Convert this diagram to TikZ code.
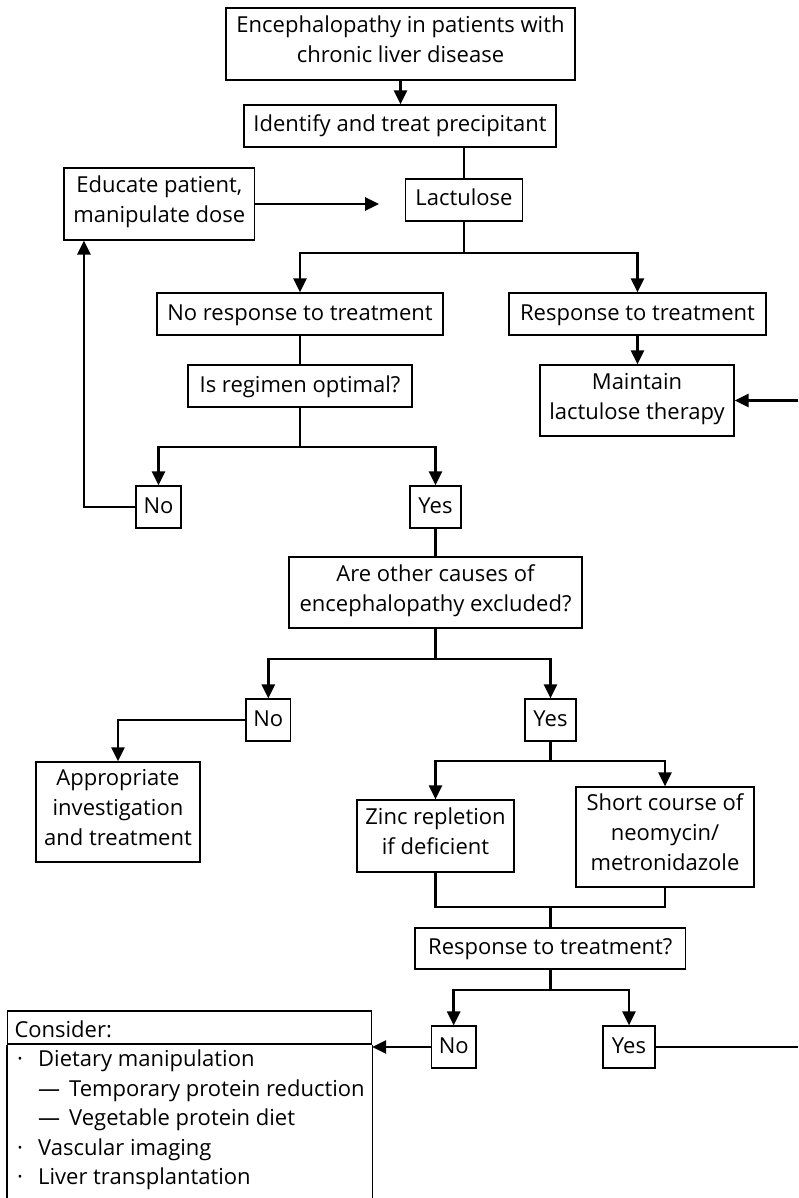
\documentclass[tikz,border=0pt]{standalone}
\usepackage{fontspec}
\setmainfont{Open Sans}
\usetikzlibrary{arrows.meta}
\begin{document}
\begin{tikzpicture}[x=1pt,y=-1pt,
  box/.style={draw, line width=1.2pt, inner sep=2pt, align=center,
    font=\fontsize{22}{30}\selectfont,
    execute at begin node=\strut, execute at end node=\strut},
  conn/.style={line width=2.6pt},
  arr/.style={conn, -{Triangle[length=14pt,width=13pt]}},
  li/.style={anchor=base west, inner sep=0pt, font=\fontsize{22}{30}\selectfont}
]
\path[use as bounding box, fill=white] (0,0) rectangle (798,1198);

% nodes
\node[box, minimum width=349pt, minimum height=72pt] (top) at (400.5,44) {Encephalopathy in patients with\\chronic liver disease};
\node[box, minimum width=312pt, minimum height=42pt] (ident) at (400,126) {Identify and treat precipitant};
\node[box, minimum width=117pt, minimum height=42pt] (lact) at (464,200) {Lactulose};
\node[box, minimum width=190.5pt, minimum height=72pt] (edu) at (159.3,204) {Educate patient,\\manipulate dose};
\node[box, minimum width=286pt, minimum height=42pt] (noresp) at (300,314) {No response to treatment};
\node[box, minimum width=257pt, minimum height=42pt] (resp) at (637.5,314) {Response to treatment};
\node[box, minimum width=224pt, minimum height=42pt] (regimen) at (300,386) {Is regimen optimal?};
\node[box, minimum width=194pt, minimum height=71pt] (maintain) at (637,400.5) {Maintain\\lactulose therapy};
\node[box, minimum width=45pt, minimum height=42pt] (no1) at (158.5,507) {No};
\node[box, minimum width=51pt, minimum height=42pt] (yes1) at (435.5,507) {Yes};
\node[box, minimum width=293pt, minimum height=71pt] (other) at (435.5,592.5) {Are other causes of\\encephalopathy excluded?};
\node[box, minimum width=44.6pt, minimum height=42pt] (no2) at (268.3,720) {No};
\node[box, minimum width=51pt, minimum height=42pt] (yes2) at (550.5,720) {Yes};
\node[box, minimum width=164pt, minimum height=100pt] (approp) at (118,812) {Appropriate\\investigation\\and treatment};
\node[box, minimum width=157pt, minimum height=72pt] (zinc) at (435.5,836) {Zinc repletion\\if deficient};
\node[box, minimum width=178pt, minimum height=100pt] (short) at (665,837) {Short course of\\neomycin/\\metronidazole};
\node[box, minimum width=270.5pt, minimum height=41pt] (resp2) at (550.3,948.5) {Response to treatment?};
\node[box, minimum width=44.5pt, minimum height=42pt] (no3) at (453.7,1047) {No};
\node[box, minimum width=52pt, minimum height=42pt] (yes3) at (629,1047) {Yes};

% consider box
\node[draw, line width=1.2pt, minimum width=364pt, minimum height=33pt, text width=350pt,
  inner xsep=7pt, inner ysep=0pt, align=left, text height=24pt, text depth=4pt,
  font=\fontsize{22}{30}\selectfont] (consider) at (189.5,1027.5) {Consider:};
\coordinate (cb) at (0,1202);
\draw[line width=1.2pt] (consider.south west) -- (consider.south west |- cb);
\draw[line width=1.2pt] (consider.south east) -- (consider.south east |- cb);
\node[li] (c1) at (17,1066.5) {\makebox[21pt][l]{·}Dietary manipulation};
\node[li] (c2) at (38,1096) {\makebox[31pt][l]{—}Temporary protein reduction};
\node[li] (c3) at (38,1125.5) {\makebox[31pt][l]{—}Vegetable protein diet};
\node[li] (c4) at (17,1155) {\makebox[21pt][l]{·}Vascular imaging};
\node[li] (c5) at (17,1184.5) {\makebox[21pt][l]{·}Liver transplantation};

% connectors
\draw[arr] (top.south) -- (top.south |- ident.north);
\draw[conn] (lact.north |- ident.south) -- (lact.north);
\coordinate (eduend) at (379,204);
\draw[arr] (edu.east) -- (eduend);
\coordinate (s1) at (464,253);
\draw[conn] (lact.south) -- (s1);
\draw[arr] (s1) -| (noresp.north);
\draw[arr] (s1) -| (resp.north);
\draw[conn] (noresp.south) -- (regimen.north);
\draw[arr] (resp.south) -- (resp.south |- maintain.north);
\coordinate (s2) at (300,447);
\draw[conn] (regimen.south) -- (s2);
\draw[arr] (s2) -| (no1.north);
\draw[arr] (s2) -| (yes1.north);
\draw[arr] (no1.west) -| ([xshift=20.5pt]edu.south west);
\draw[conn] (yes1.south) -- (other.north);
\coordinate (s3) at (435.5,659);
\draw[conn] (other.south) -- (s3);
\draw[arr] (s3) -| (no2.north);
\draw[arr] (s3) -| (yes2.north);
\draw[arr] (no2.west) -| (approp.north);
\coordinate (s4) at (550.5,761);
\draw[conn] (yes2.south) -- (s4);
\draw[arr] (s4) -| (zinc.north);
\draw[arr] (s4) -| (short.north);
\coordinate (m1) at (550.3,907);
\draw[conn] (zinc.south) |- (m1) -| (short.south);
\draw[conn] (m1) -- (resp2.north);
\coordinate (s5) at (550.3,990);
\draw[conn] (resp2.south) -- (s5);
\draw[arr] (s5) -| (no3.north);
\draw[arr] (s5) -| (yes3.north);
\draw[arr] (no3.west) -- (no3.west -| consider.east);
\coordinate (re2) at (798,1047);
\draw[conn] (yes3.east) -- (re2);
\coordinate (re1) at (798,400.5);
\draw[arr] (re1) -- (maintain.east);
\end{tikzpicture}
\end{document}
